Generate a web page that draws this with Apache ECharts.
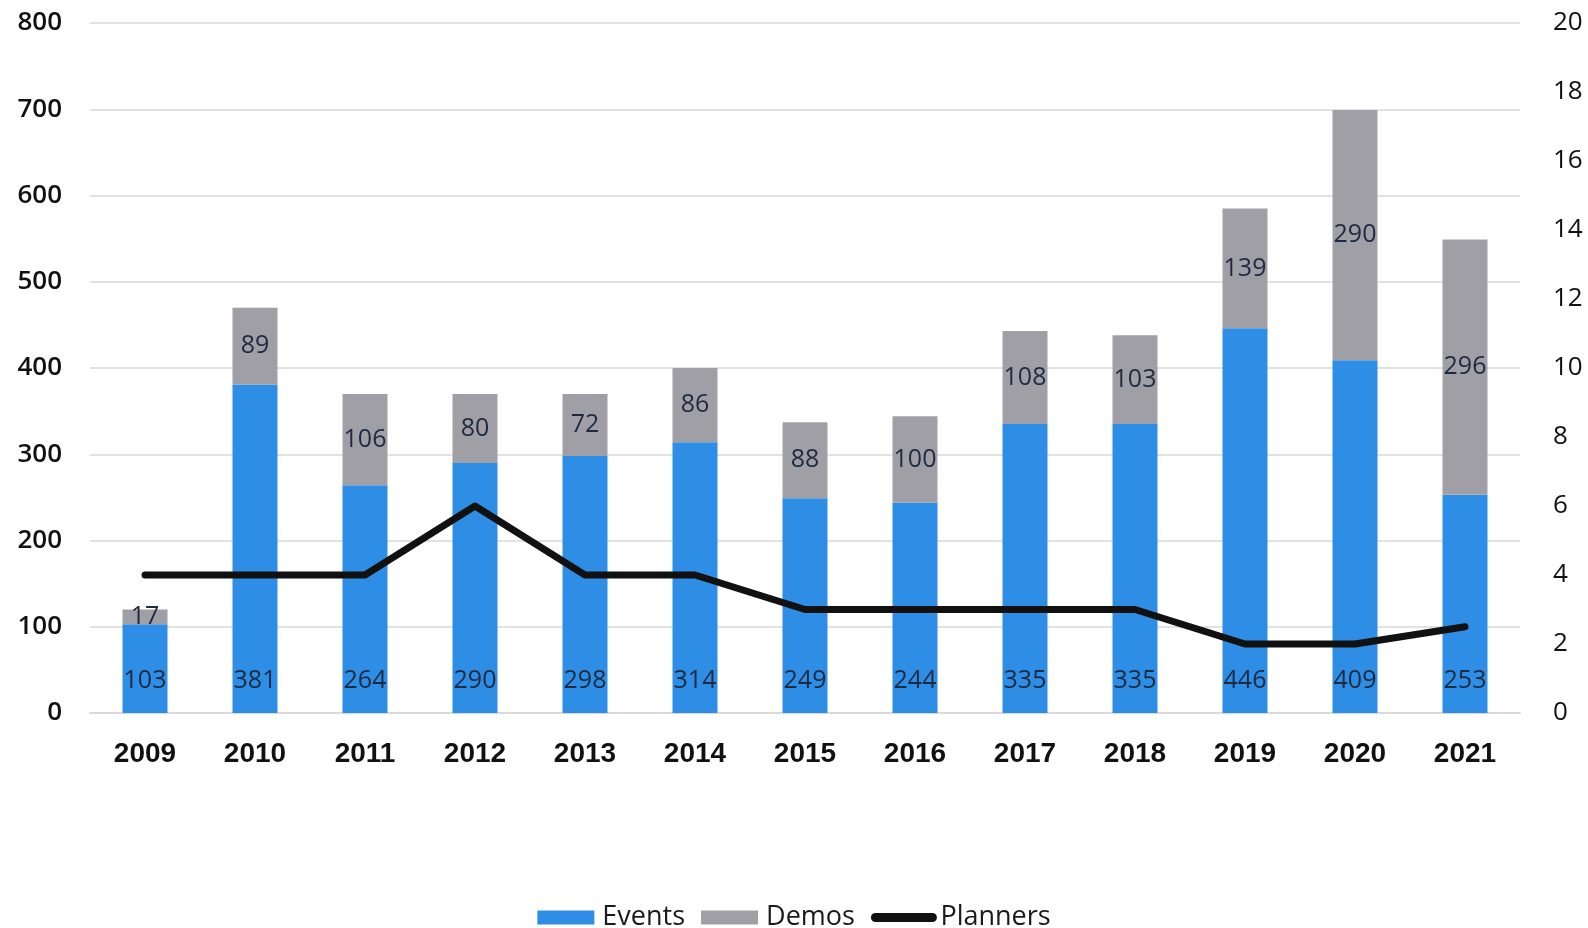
<!DOCTYPE html>
<html>
<head>
<meta charset="utf-8">
<title>Events, Demos and Planners</title>
<script src="https://cdn.jsdelivr.net/npm/echarts@6/dist/echarts.min.js"></script>
<style>
  html, body { margin: 0; padding: 0; background: #fff; }
  #chart { width: 1588px; height: 928px; }
</style>
</head>
<body>
<div id="chart"></div>
<script>
// data
const years = ['2009', '2010', '2011', '2012', '2013', '2014', '2015', '2016', '2017', '2018', '2019', '2020', '2021'];
const events = [103, 381, 264, 290, 298, 314, 249, 244, 335, 335, 446, 409, 253];
const demos = [17, 89, 106, 80, 72, 86, 88, 100, 108, 103, 139, 290, 296];
const planners = [4, 4, 4, 6, 4, 4, 3, 3, 3, 3, 2, 2, 2.5];
const leftTicks = [0, 800, 100];
const rightTicks = [0, 20, 2];

const font = 'Open Sans';
const labelStyle = { fontFamily: font, fontSize: 25, color: '#1e2a40' };

const chart = echarts.init(document.getElementById('chart'));

chart.setOption({
  animation: false,
  grid: { left: 90, right: 68, top: 23, bottom: 215 },
  legend: {
    top: 899,
    left: 'center',
    itemWidth: 57,
    itemHeight: 14,
    itemGap: 16,
    textStyle: { fontFamily: font, fontSize: 27, color: '#1a1a1a', padding: [0, 0, 0, 3] },
    data: [
      { name: 'Events', icon: 'rect' },
      { name: 'Demos', icon: 'rect' },
      { name: 'Planners', itemStyle: { opacity: 0 }, lineStyle: { width: 9, cap: 'round', color: '#111' } }
    ]
  },
  xAxis: {
    type: 'category',
    data: years,
    axisLine: { lineStyle: { color: '#dadada', width: 2 } },
    axisTick: { show: false },
    axisLabel: {
      margin: 27,
      fontFamily: 'Liberation Sans',
      fontWeight: 'bold',
      fontSize: 28,
      color: '#111'
    }
  },
  yAxis: [
    {
      type: 'value',
      min: leftTicks[0],
      max: leftTicks[1],
      interval: leftTicks[2],
      axisLine: { show: false },
      axisTick: { show: false },
      splitLine: { lineStyle: { color: '#e2e2e2', width: 2 } },
      axisLabel: { margin: 28, fontFamily: font, fontWeight: 600, fontSize: 26, color: '#111' }
    },
    {
      type: 'value',
      min: rightTicks[0],
      max: rightTicks[1],
      interval: rightTicks[2],
      axisLine: { show: false },
      axisTick: { show: false },
      splitLine: { show: false },
      axisLabel: { margin: 33, fontFamily: font, fontSize: 26, color: '#111' }
    }
  ],
  series: [
    {
      name: 'Events',
      type: 'bar',
      stack: 'total',
      barWidth: 45,
      data: events,
      itemStyle: { color: '#2e8de4' },
      label: { show: true, position: 'insideBottom', distance: 20, ...labelStyle }
    },
    {
      name: 'Demos',
      type: 'bar',
      stack: 'total',
      barWidth: 45,
      data: demos,
      itemStyle: { color: '#a19fa6' },
      label: { show: true, position: 'inside', ...labelStyle }
    },
    {
      name: 'Planners',
      type: 'line',
      yAxisIndex: 1,
      data: planners,
      symbol: 'none',
      lineStyle: { color: '#111', width: 7, cap: 'round', join: 'round' },
      itemStyle: { color: '#111' }
    }
  ]
});
</script>
</body>
</html>
